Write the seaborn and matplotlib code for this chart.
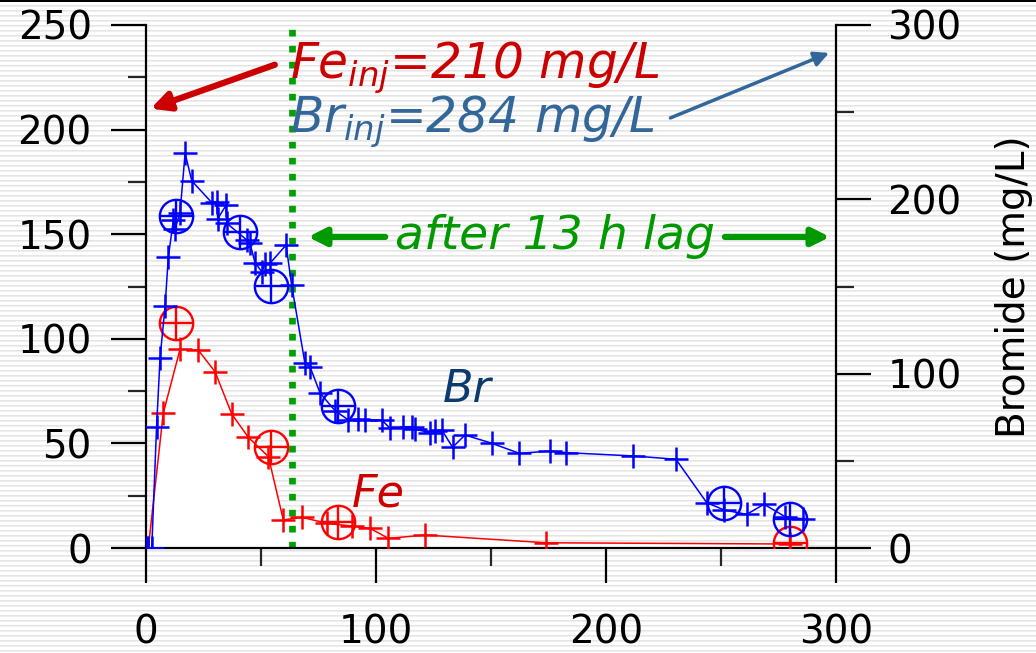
import numpy as np
import matplotlib
matplotlib.use("Agg")
import matplotlib.pyplot as plt
import seaborn as sns
from matplotlib.ticker import MultipleLocator

# ---- data -------------------------------------------------------------
# bromide (right axis, mg/L), time in h
br_t = [0, 1, 2.5, 4.6, 6.1, 8.3, 9.7, 11.9, 12.6, 14.8, 17.0, 19.9, 28.6, 30.7,
        31.2, 34.8, 35.1, 43.8, 45.2, 47.4, 50.3, 51.7, 53.9, 60.9, 63.3, 69.1,
        71.3, 75.7, 82.2, 88.0, 92.3, 95.2, 102.5, 106.1, 111.9, 115.5, 117.0,
        123.5, 125.7, 128.6, 133.3, 138.7, 150.3, 162.3, 175.7, 182.6, 211.9,
        230.4, 243.8, 251.4, 261.2, 268.7, 277.8, 285.8]
br_mg = [0, 0, 0, 69.6, 108.8, 138.8, 166.8, 188.0, 183.0, 192.4, 226.4, 210.6,
         198.1, 198.7, 188.9, 196.6, 186.3, 176.7, 174.8, 163.7, 158.5, 162.9,
         163.3, 173.8, 151.0, 106.0, 104.0, 88.8, 78.8, 73.4, 73.8, 73.4, 73.4,
         68.7, 69.2, 69.2, 68.1, 66.2, 67.3, 67.7, 57.8, 64.8, 60.1, 54.3, 55.6,
         54.7, 52.8, 50.9, 26.0, 21.8, 19.3, 25.1, 18.0, 16.6]
br_circ_t = [13.0, 40.9, 54.2, 83.3, 251.4, 280.0]
br_circ_mg = [190.5, 181.3, 150.5, 81.3, 25.6, 16.6]

# iron (left axis, mg/L)
fe_t = [1, 7.5, 14.8, 22.7, 30.0, 37.3, 44.5, 53.2, 59.7, 67.7, 78.6, 89.4,
        97.4, 105.4, 121.3, 174.0, 280.0]
fe_mg = [0, 64.4, 95.0, 94.6, 84.3, 64.0, 52.9, 43.7, 13.4, 14.7, 11.8, 10.5,
         9.4, 4.6, 6.2, 2.5, 1.9]
fe_circ_t = [12.9, 54.2, 83.3, 280.0]
fe_circ_mg = [107.7, 48.4, 12.3, 2.5]

fe_inj = 210
br_inj = 284
lag_t = 63.5

x_ticks = [0, 100, 200, 300]
fe_ticks = [0, 50, 100, 150, 200, 250]
br_ticks = [0, 100, 200, 300]

# ---- style -------------------------------------------------------------
sns.set_theme(style="white")
plt.rcParams["font.family"] = ["DejaVu Sans"]
plt.rcParams["mathtext.fontset"] = "dejavusans"

W, H = 1036, 653
fig = plt.figure(figsize=(W / 100, H / 100), dpi=100)
fig.patch.set_facecolor("white")

# striped backdrop over the whole figure
bg = fig.add_axes([0, 0, 1, 1], zorder=0)
rows = np.ones((H, 1, 3))
for r in range(H):
    k = r % 5
    if k == 0:
        rows[r] = 0.90
    elif k == 1:
        rows[r] = 0.94
rows[0:2] = 0.0
bg.imshow(rows, aspect="auto", interpolation="nearest", extent=[0, 1, 0, 1])
bg.set_axis_off()

ax = fig.add_axes([146 / W, 105 / H, 690 / W, 523 / H], zorder=1)
ax.patch.set_alpha(0)
ax2 = ax.twinx()
ax2.patch.set_alpha(0)

blue = "#0000ff"
red = "#ff0000"
green = "#00a000"

# Fe: white area under the curve, line with crosses, circled samples
ax.fill_between(fe_t, fe_mg, 0, color="white", zorder=1, lw=0)
sns.lineplot(x=fe_t, y=fe_mg, ax=ax, color=red, lw=1.1, marker="+",
             markersize=17, markeredgewidth=1.8, markeredgecolor=red,
             estimator=None, sort=False, zorder=3)
sns.lineplot(x=fe_circ_t, y=fe_circ_mg, ax=ax, color=red, linestyle="none",
             marker="o", markersize=24, markerfacecolor="none",
             markeredgecolor=red, markeredgewidth=1.7, estimator=None,
             sort=False, zorder=3)
sns.lineplot(x=fe_circ_t, y=fe_circ_mg, ax=ax, color=red, linestyle="none",
             marker="+", markersize=24, markeredgecolor=red,
             markeredgewidth=1.7, estimator=None, sort=False, zorder=3)

# lag marker
ax.plot([lag_t, lag_t], [0, 248], color=green, lw=4.8,
        linestyle=(0, (1, 1.4)), solid_capstyle="butt",
        dash_capstyle="butt", zorder=2)

# Br on the right axis
sns.lineplot(x=br_t, y=br_mg, ax=ax2, color=blue, lw=1.1, marker="+",
             markersize=17, markeredgewidth=1.8, markeredgecolor=blue,
             estimator=None, sort=False, zorder=3)
sns.lineplot(x=br_circ_t, y=br_circ_mg, ax=ax2, color=blue, linestyle="none",
             marker="o", markersize=24, markerfacecolor="none",
             markeredgecolor=blue, markeredgewidth=1.7, estimator=None,
             sort=False, zorder=3)
sns.lineplot(x=br_circ_t, y=br_circ_mg, ax=ax2, color=blue, linestyle="none",
             marker="+", markersize=24, markeredgecolor=blue,
             markeredgewidth=1.7, estimator=None, sort=False, zorder=3)

# ---- axes --------------------------------------------------------------
ax.set_xlim(0, 300)
ax.set_ylim(0, 250)
ax2.set_ylim(0, 300)
ax.set_xticks(x_ticks)
ax.set_yticks(fe_ticks)
ax2.set_yticks(br_ticks)
ax.xaxis.set_minor_locator(MultipleLocator(50))
ax.yaxis.set_minor_locator(MultipleLocator(25))
ax2.yaxis.set_minor_locator(MultipleLocator(50))
ax.set_xlabel("")
ax.set_ylabel("")
ax2.set_ylabel("Bromide (mg/L)", fontsize=28, labelpad=24, color="black")

for a in (ax, ax2):
    for s in a.spines.values():
        s.set_visible(False)
        s.set_color("black")
        s.set_linewidth(1.6)
ax.spines["left"].set_visible(True)
ax.spines["bottom"].set_visible(True)
ax2.spines["right"].set_visible(True)

ax.tick_params(axis="both", which="major", direction="out", length=25,
               width=1.6, labelsize=28, colors="black", pad=14,
               left=True, bottom=True)
ax.tick_params(axis="both", which="minor", direction="out", length=13,
               width=1.6, left=True, bottom=True)
ax.tick_params(axis="x", which="major", pad=22)
ax2.tick_params(axis="y", which="major", direction="out", length=25,
                width=1.6, labelsize=28, colors="black", pad=12, right=True)
ax2.tick_params(axis="y", which="minor", direction="out", length=13,
                width=1.6, right=True)
ax.grid(False)
ax2.grid(False)

# ---- annotations -------------------------------------------------------
ax.text(62.6, 224, r"$Fe_{inj}$=210 mg/L", color="#cc0000", fontsize=35,
        style="italic", ha="left", va="baseline", zorder=5)
ax.text(62.6, 198.4, r"$Br_{inj}$=284 mg/L", color="#336699", fontsize=35,
        style="italic", ha="left", va="baseline", zorder=5)
ax.annotate("", xy=(2, fe_inj), xytext=(56, 231),
            arrowprops=dict(arrowstyle="-|>", color="#cc0000", lw=4.5,
                            mutation_scale=28, shrinkA=0, shrinkB=0))
ax2.annotate("", xy=(297, br_inj), xytext=(228, 246.7),
             arrowprops=dict(arrowstyle="-|>", color="#336699", lw=2.5,
                             mutation_scale=22, shrinkA=0, shrinkB=0))

ax.text(177.8, 149, "after 13 h lag", color="#009900", fontsize=34,
        style="italic", ha="center", va="center", zorder=5)
ax.annotate("", xy=(70.4, 148.7), xytext=(104, 148.7),
            arrowprops=dict(arrowstyle="-|>", color="#009900", lw=4.5,
                            mutation_scale=26, shrinkA=0, shrinkB=0))
ax.annotate("", xy=(297.4, 148.7), xytext=(251.7, 148.7),
            arrowprops=dict(arrowstyle="-|>", color="#009900", lw=4.5,
                            mutation_scale=26, shrinkA=0, shrinkB=0))

ax.text(129, 69.8, "Br", color="#0b3a6e", fontsize=32, style="italic",
        ha="left", va="baseline", zorder=5)
ax.text(89.6, 19.6, "Fe", color="#cc0000", fontsize=32, style="italic",
        ha="left", va="baseline", zorder=5)

fig.savefig("out.png", dpi=100)
